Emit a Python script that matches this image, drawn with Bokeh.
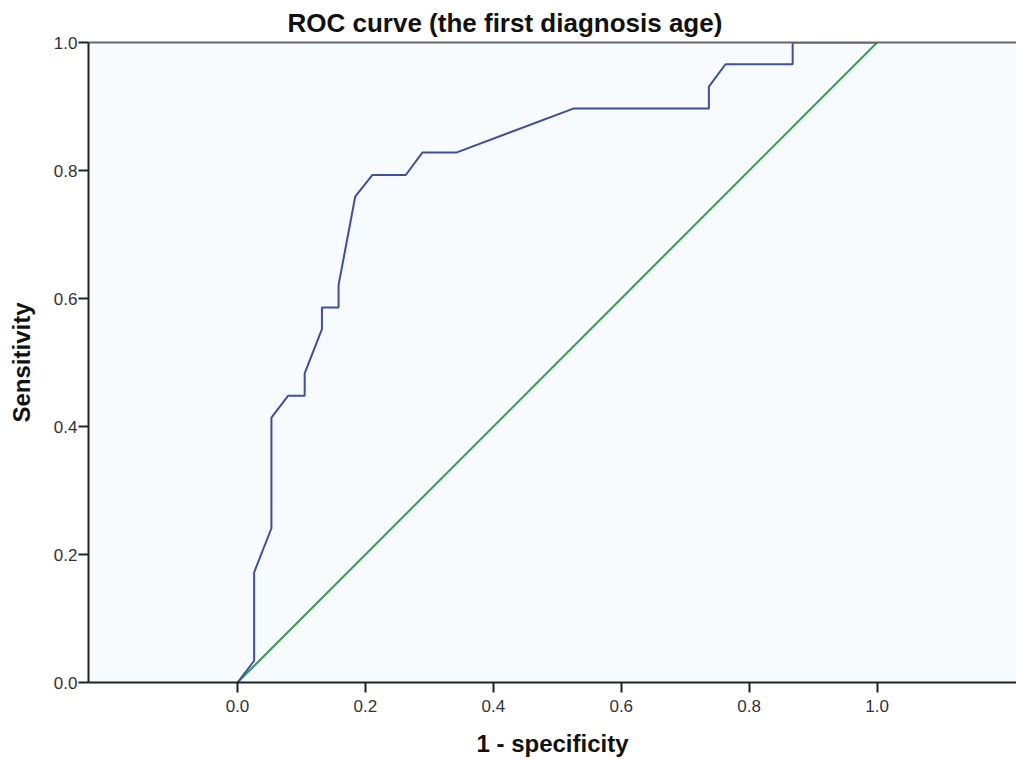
from bokeh.plotting import figure
from bokeh.models import FixedTicker, Range1d, LinearAxis
from bokeh.embed import file_html
from bokeh.resources import INLINE

# ROC curve points (1 - specificity, sensitivity)
fpr = [0.0, 0.026, 0.026, 0.053, 0.053, 0.079, 0.105, 0.105, 0.132, 0.132,
       0.158, 0.158, 0.184, 0.211, 0.263, 0.289, 0.342, 0.526, 0.737, 0.737,
       0.763, 0.868, 0.868, 1.0]
tpr = [0.0, 0.034, 0.172, 0.241, 0.414, 0.448, 0.448, 0.483, 0.552, 0.586,
       0.586, 0.621, 0.759, 0.793, 0.793, 0.828, 0.828, 0.897, 0.897, 0.931,
       0.966, 0.966, 1.0, 1.0]
ref_x = [0.0, 1.0]
ref_y = [0.0, 1.0]
ticks = [0.0, 0.2, 0.4, 0.6, 0.8, 1.0]
tick_labels = ["0.0", "0.2", "0.4", "0.6", "0.8", "1.0"]

p = figure(width=1016, height=759, output_backend="svg", toolbar_location=None,
           x_range=Range1d(-0.233, 1.218), y_range=Range1d(0.0, 1.0),
           title="ROC curve (the first diagnosis age)",
           min_border_left=88, min_border_right=0, min_border_top=0, min_border_bottom=77)

p.background_fill_color = "#F7FBFD"
p.border_fill_color = "white"
p.outline_line_color = None
p.grid.visible = False

xb = p.below[0]
yl = p.left[0]

# top frame line (no right border visible in the original)
top = LinearAxis(ticker=FixedTicker(ticks=[]), major_label_text_font_size="0px",
                 axis_line_color="#666666", axis_line_width=2,
                 major_tick_line_color=None, minor_tick_line_color=None)
p.add_layout(top, "above")

p.title.align = "left"
p.title.offset = 199
p.title.text_font = "Liberation Sans"
p.title.text_font_size = "26px"
p.title.text_font_style = "bold"
p.title.text_color = "#111111"
p.title.standoff = 10

for ax in (xb, yl):
    ax.ticker = FixedTicker(ticks=ticks)
    ax.major_label_overrides = {t: l for t, l in zip(ticks, tick_labels)}
    ax.minor_tick_line_color = None
    ax.major_tick_out = 10
    ax.major_tick_in = 0
    ax.major_tick_line_width = 2
    ax.axis_line_width = 2
    ax.axis_line_color = "#222222"
    ax.major_tick_line_color = "#222222"
    ax.major_label_text_font = "Liberation Sans"
    ax.major_label_text_font_size = "17px"
    ax.major_label_text_color = "#333333"
    ax.axis_label_text_font = "Liberation Sans"
    ax.axis_label_text_font_size = "24px"
    ax.axis_label_text_font_style = "bold"
    ax.axis_label_text_color = "#111111"

xb.axis_label = "1 - specificity"
yl.axis_label = "Sensitivity"
xb.major_label_standoff = 7
xb.axis_label_standoff = 15
yl.major_label_standoff = 1
yl.axis_label_standoff = 16

p.line(ref_x, ref_y, line_color="#2E9E50", line_width=2)
p.line(fpr, tpr, line_color="#3E4F9E", line_width=2)

open("out.html", "w").write(file_html(p, INLINE))
